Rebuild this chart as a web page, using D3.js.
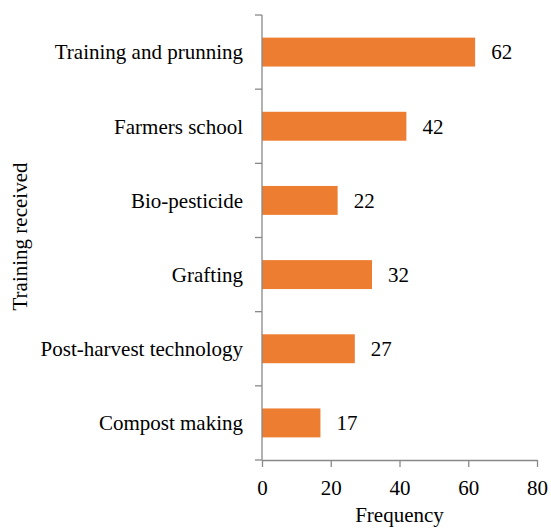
<!DOCTYPE html>
<html>
<head>
<meta charset="utf-8">
<script src="https://cdn.jsdelivr.net/npm/d3@7"></script>
</head>
<body style="margin:0">
<svg id="chart" width="551" height="528"></svg>
<script>
// Training types received by farmers and their frequencies
const categories = [
  "Training and prunning",
  "Farmers school",
  "Bio-pesticide",
  "Grafting",
  "Post-harvest technology",
  "Compost making"
];
const frequencies = [62, 42, 22, 32, 27, 17];
const xTicks = [0, 20, 40, 60, 80];

const FONT = "Liberation Serif";
const FS = 21;

const svg = d3.select("#chart");
const margin = { top: 15, right: 14, bottom: 68, left: 262 };
const width = 551 - margin.left - margin.right;
const height = 528 - margin.top - margin.bottom;

const g = svg.append("g").attr("transform", `translate(${margin.left},${margin.top})`);

const x = d3.scaleLinear().domain([0, 80]).range([0, width]);
const y = d3.scaleBand().domain(categories).range([0, height]).paddingInner(0.61).paddingOuter(0.305);

const axisColor = "#898989";
const tickLen = 7;

function serif(sel) {
  return sel.attr("font-family", FONT).attr("font-size", FS).attr("fill", "#000");
}

// Bars
g.selectAll("rect.bar")
  .data(categories)
  .enter().append("rect")
  .attr("class", "bar")
  .attr("x", x(0))
  .attr("y", d => y(d))
  .attr("width", (d, i) => x(frequencies[i]) - x(0))
  .attr("height", y.bandwidth())
  .attr("fill", "#ED7D31");

// Value labels
g.selectAll("text.value")
  .data(categories)
  .enter().append("text")
  .attr("class", "value")
  .attr("x", (d, i) => x(frequencies[i]) + 16)
  .attr("y", d => y(d) + y.bandwidth() / 2)
  .attr("dy", "0.35em")
  .text((d, i) => frequencies[i])
  .call(serif);

// Y axis: vertical line with ticks at band boundaries
const yAxisG = g.append("g");
yAxisG.append("line")
  .attr("x1", 0).attr("x2", 0).attr("y1", 0).attr("y2", height)
  .attr("stroke", axisColor).attr("stroke-width", 1.3);
const boundaries = categories.map(c => y(c) - y.step() * y.paddingInner() / 2);
boundaries.push(height);
yAxisG.selectAll("line.tick")
  .data(boundaries)
  .enter().append("line")
  .attr("class", "tick")
  .attr("x1", -tickLen).attr("x2", 0)
  .attr("y1", d => d).attr("y2", d => d)
  .attr("stroke", axisColor).attr("stroke-width", 1.3);
yAxisG.selectAll("text.cat")
  .data(categories)
  .enter().append("text")
  .attr("class", "cat")
  .attr("x", -19)
  .attr("y", d => y(d) + y.bandwidth() / 2)
  .attr("dy", "0.35em")
  .attr("text-anchor", "end")
  .text(d => d)
  .call(serif);

// X axis
const xAxisG = g.append("g").attr("transform", `translate(0,${height})`);
xAxisG.call(d3.axisBottom(x).tickValues(xTicks).tickSize(tickLen).tickPadding(13).tickSizeOuter(0));
xAxisG.attr("font-family", FONT).attr("font-size", FS);
xAxisG.select(".domain").attr("stroke", axisColor).attr("stroke-width", 1.3);
xAxisG.selectAll(".tick line").attr("stroke", axisColor).attr("stroke-width", 1.3);
xAxisG.selectAll(".tick text").call(serif);

// Axis titles
svg.append("text")
  .attr("x", margin.left + width / 2)
  .attr("y", 522)
  .attr("text-anchor", "middle")
  .text("Frequency")
  .call(serif);

svg.append("text")
  .attr("transform", `translate(27,${margin.top + height / 2 - 1}) rotate(-90)`)
  .attr("text-anchor", "middle")
  .text("Training received")
  .call(serif);
</script>
</body>
</html>
